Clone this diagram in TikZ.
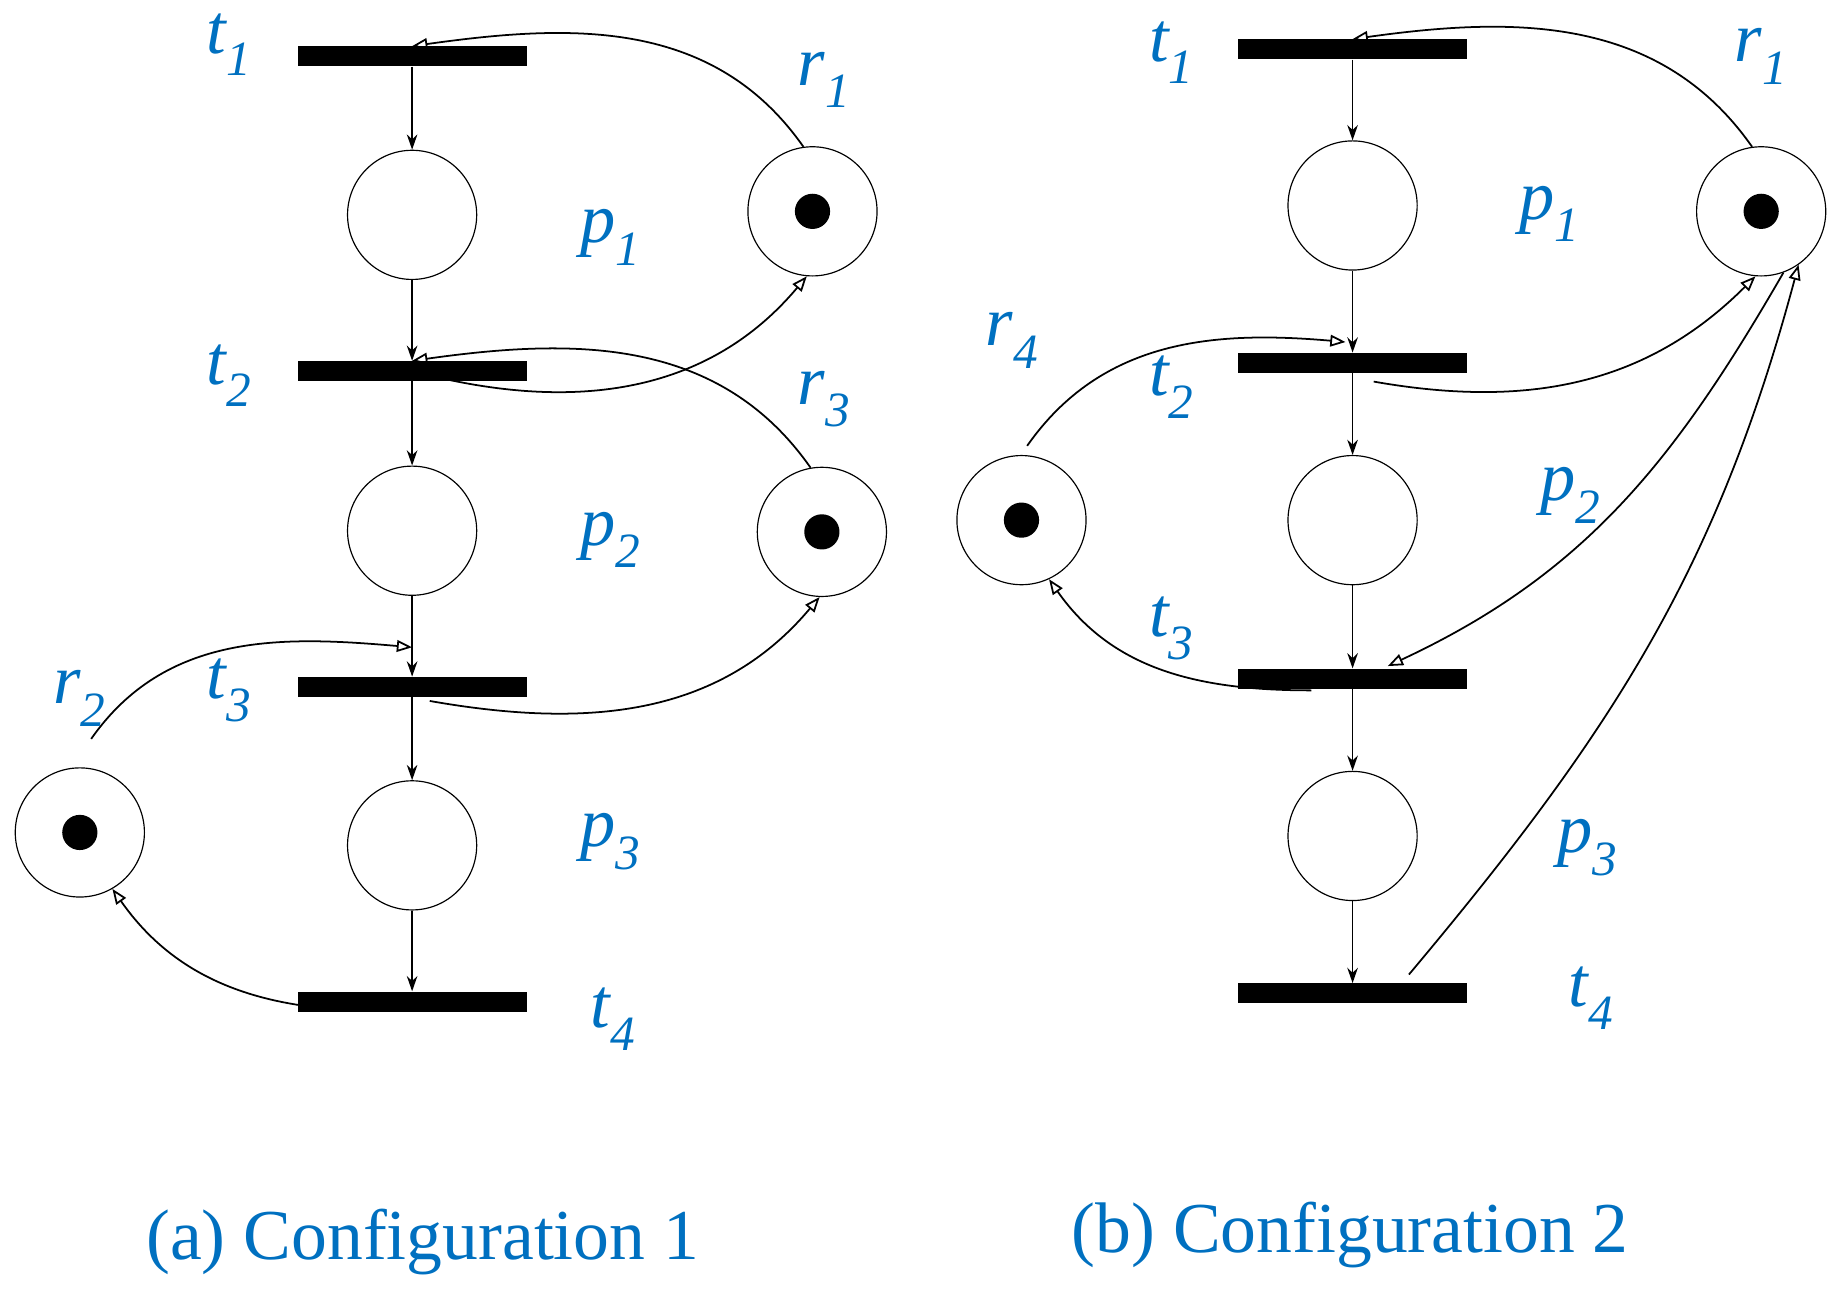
\documentclass[tikz,border=0pt]{standalone}
\usepackage{fontspec}
\setmainfont{Liberation Serif}
\usetikzlibrary{arrows.meta}
\definecolor{lblue}{RGB}{0,112,192}
\begin{document}
\begin{tikzpicture}[x=1pt,y=-1pt,
 pl/.style={circle,draw,line width=1pt,minimum size=110pt,inner sep=0},
 tr/.style={rectangle,fill=black,minimum width=195pt,minimum height=17pt,inner sep=0},
 tok/.style={circle,fill=black,minimum size=30pt,inner sep=0},
 lab/.style={text=lblue,font=\fontsize{60}{66}\selectfont\itshape},
 captxt/.style={text=lblue,font=\fontsize{61}{66}\selectfont},
 arc/.style={line width=1.5pt,-{Stealth[length=13pt,width=9pt]}},
 res/.style={line width=1.5pt,-{Triangle[open,length=13pt,width=10pt]}}]
\useasboundingbox (0,0) rectangle (1568,1108);
% ---- left
\node[tr] (t1) at (351,48) {};
\node[tr] (t2) at (351,316) {};
\node[tr] (t3) at (351,585) {};
\node[tr] (t4) at (351,853) {};
\node[pl] (p1) at (351,183) {};
\node[pl] (p2) at (351,452) {};
\node[pl] (p3) at (351,720) {};
\node[pl] (r1) at (692,180) {}; \node[tok] at (r1) {};
\node[pl] (r3) at (700,453) {}; \node[tok] at (r3) {};
\node[pl] (r2) at (68,709) {}; \node[tok] at (r2) {};
\draw[arc] (t1) -- (p1); \draw[arc] (p1) -- (t2.north);
\draw[arc] (t2) -- (p2); \draw[arc] (p2) -- (t3.north);
\draw[arc] (t3) -- (p3); \draw[arc] (p3) -- (t4.north);
\draw[res] (r1.98) to[out=125,in=8] (t1.north);
\draw[res] (t2.center) to[out=-15,in=-130] (r1.265);
\draw[res] (r3.100) to[out=125,in=8] (t2.north);
\draw[res] ([xshift=15pt,yshift=-12pt]t3.center) to[out=-10,in=-130] (r3.268);
\draw[res] ([yshift=25pt]r2.80) to[out=55,in=175] ([yshift=25pt]t3.north);
\draw[res] ([xshift=-25pt,yshift=-8pt]t4.center) to[out=180,in=-55] (r2.-60);
\node[lab] at (195,38) {t\textsubscript{1}};
\node[lab] at (195,320) {t\textsubscript{2}};
\node[lab] at (195,588) {t\textsubscript{3}};
\node[lab] at (522,868) {t\textsubscript{4}};
\node[lab] at (520,202) {p\textsubscript{1}};
\node[lab] at (520,460) {p\textsubscript{2}};
\node[lab] at (520,717) {p\textsubscript{3}};
\node[lab] at (702,68) {r\textsubscript{1}};
\node[lab] at (702,340) {r\textsubscript{3}};
\node[lab] at (68,595) {r\textsubscript{2}};
\node[captxt] at (360,1058) {(a) Configuration 1};
% ---- right
\node[tr] (u1) at (1152,42) {};
\node[tr] (u2) at (1152,309) {};
\node[tr] (u3) at (1152,578) {};
\node[tr] (u4) at (1152,846) {};
\node[pl] (q1) at (1152,175) {};
\node[pl] (q2) at (1152,443) {};
\node[pl] (q3) at (1152,712) {};
\node[pl] (s1) at (1500,180) {}; \node[tok] at (s1) {};
\node[pl] (s4) at (870,443) {}; \node[tok] at (s4) {};
\draw[arc] (u1) -- (q1); \draw[arc] (q1) -- (u2.north);
\draw[arc] (u2) -- (q2); \draw[arc] (q2) -- (u3.north);
\draw[arc] (u3) -- (q3); \draw[arc] (q3) -- (u4.north);
\draw[res] (s1.98) to[out=125,in=8] (u1.north);
\draw[res] ([xshift=18pt,yshift=-16pt]u2.center) to[out=-10,in=-135] (s1.265);
\draw[res] ([yshift=8pt]s4.85) to[out=55,in=175] ([xshift=-6pt,yshift=9pt]u2.north);
\draw[res] (s1.-70) to[out=-120,in=25] ([xshift=30pt,yshift=2pt]u3.north);
\draw[res] ([xshift=-35pt,yshift=-10pt]u3.center) to[out=180,in=-55] (s4.-65);
\draw[res] ([xshift=48pt,yshift=16pt]u4.center) to[out=50,in=-105] (s1.-55);
\node[lab] at (998,45) {t\textsubscript{1}};
\node[lab] at (998,330) {t\textsubscript{2}};
\node[lab] at (998,535) {t\textsubscript{3}};
\node[lab] at (1355,850) {t\textsubscript{4}};
\node[lab] at (1320,182) {p\textsubscript{1}};
\node[lab] at (1338,422) {p\textsubscript{2}};
\node[lab] at (1352,722) {p\textsubscript{3}};
\node[lab] at (1500,48) {r\textsubscript{1}};
\node[lab] at (862,290) {r\textsubscript{4}};
\node[captxt] at (1150,1052) {(b) Configuration 2};
\end{tikzpicture}
\end{document}
